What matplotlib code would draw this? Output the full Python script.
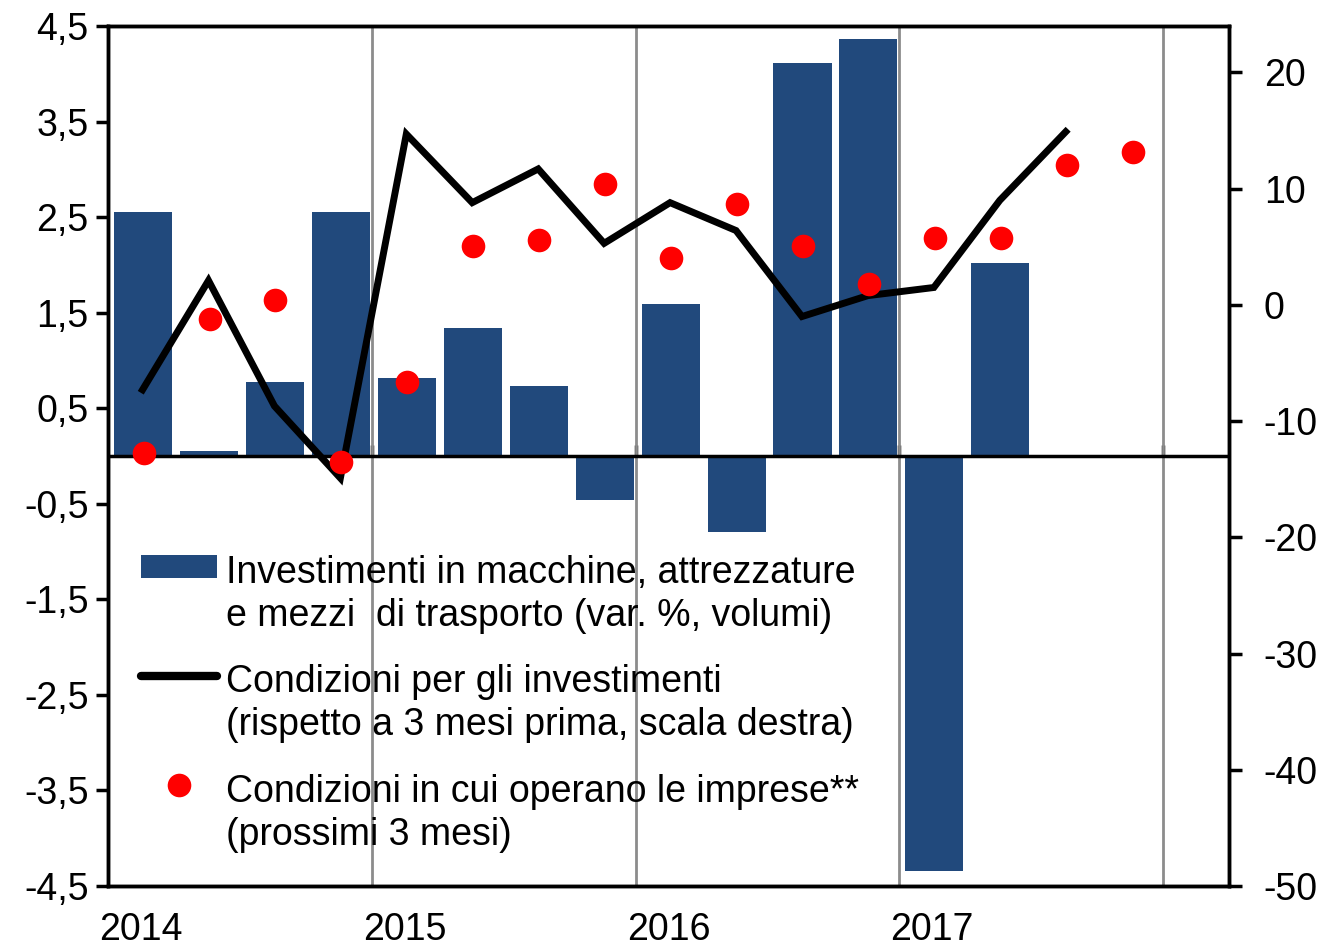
import matplotlib
matplotlib.use("Agg")
import matplotlib.pyplot as plt
from matplotlib.patches import Patch, Rectangle
from matplotlib.lines import Line2D
from matplotlib.legend_handler import HandlerPatch
from matplotlib.transforms import Affine2D
import numpy as np

plt.rcParams['font.family'] = ['Liberation Sans', 'DejaVu Sans']

# ---- data ----
years = [2014, 2015, 2016, 2017]
quarters_bar = ["2014Q1", "2014Q2", "2014Q3", "2014Q4", "2015Q1", "2015Q2", "2015Q3", "2015Q4",
                "2016Q1", "2016Q2", "2016Q3", "2016Q4", "2017Q1", "2017Q2"]
investimenti = [2.55, 0.05, 0.77, 2.55, 0.82, 1.34, 0.73, -0.46,
                1.59, -0.80, 4.11, 4.36, -4.34, 2.02]
condizioni_inv = [-7.3, 2.1, -8.7, -14.9, 14.7, 8.8, 11.7, 5.3,
                  8.8, 6.4, -1.0, 0.8, 1.5, 9.0, 14.9]
condizioni_imp = [-12.7, -1.2, 0.4, -13.5, -6.6, 5.1, 5.6, 10.4,
                  4.0, 8.7, 5.1, 1.8, 5.8, 5.8, 12.0, 13.2]
left_ticks = [4.5, 3.5, 2.5, 1.5, 0.5, -0.5, -1.5, -2.5, -3.5, -4.5]
right_ticks = [-50, -40, -30, -20, -10, 0, 10, 20]

labels = ["Investimenti in macchine, attrezzature\ne mezzi  di trasporto (var. %, volumi)",
          "Condizioni per gli investimenti\n(rispetto a 3 mesi prima, scala destra)",
          "Condizioni in cui operano le imprese**\n(prossimi 3 mesi)"]

BAR_COLOR = "#21497C"

def qpos(n):
    return np.array([2014 + (i + 0.5) / 4 for i in range(n)])

fig = plt.figure(figsize=(13.26, 9.52), dpi=100)
ax = fig.add_axes([108/1326, 1 - 886/952, (1229-108)/1326, (886-26)/952])
ax2 = ax.twinx()

FS = 27

# bars
ax.bar(qpos(len(investimenti)) + 0.008, investimenti, width=0.22, color=BAR_COLOR, zorder=2)
ax.axhline(0, color='black', lw=2.5, zorder=2.5)
ax.set_ylim(-4.5, 4.5)
ax.set_xlim(2014, 2018.25)
ax.set_yticks(left_ticks)
ax.set_yticklabels([("%.1f" % v).replace(".", ",") for v in left_ticks], fontsize=FS)
ax.tick_params(axis='y', direction='out', length=9, width=2.5, pad=5)

# x ticks: labels at Q1 centers, gridlines at year boundaries
ax.set_xticks([y + 0.125 for y in years])
ax.set_xticklabels([str(y) for y in years], fontsize=FS)
ax.set_xticks([2015, 2016, 2017, 2018], minor=True)
ax.tick_params(axis='x', which='both', length=0, pad=19)
ax.grid(False)
ax.xaxis.grid(True, which='minor', color='#8c8c8c', linewidth=2)
ax.set_axisbelow(True)

# zero axis ticks
sec = ax.secondary_xaxis(0.5)
sec.set_xticks([2015, 2016, 2017, 2018])
sec.set_xticklabels([])
sec.tick_params(direction='out', length=8, width=2.5)
sec.spines['bottom'].set_visible(False)

for s in ax.spines.values():
    s.set_linewidth(2.5)
for s in ax2.spines.values():
    s.set_linewidth(2.5)

# right axis
ax2.plot(qpos(len(condizioni_inv)) + 0.006, condizioni_inv, color='black', lw=5,
         solid_joinstyle='miter', zorder=3)
ax2.plot(qpos(len(condizioni_imp)) + 0.01, condizioni_imp, 'o', color='#ff0000',
         markersize=17, markeredgewidth=0, zorder=4)
ax2.set_ylim(-50, 24)
ax2.set_yticks(right_ticks)
ax2.set_yticklabels([str(v) for v in right_ticks], fontsize=FS)
ax2.tick_params(axis='y', direction='out', length=9, width=2.5, pad=16)


def raised_rect(legend, orig_handle, xdescent, ydescent, width, height, fontsize):
    # shift the patch up so it lines up with the first text line (points)
    return Rectangle((-xdescent, -ydescent + 20.5), width, height)


handles = [Patch(facecolor=BAR_COLOR, edgecolor='none'),
           Line2D([0], [0], color='black', lw=6, solid_capstyle='round'),
           Line2D([0], [0], marker='o', color='#ff0000', lw=0, markersize=17,
                  markeredgewidth=0)]
leg = ax2.legend(handles, labels, loc='upper left', bbox_to_anchor=(0.029, 0.385),
                 frameon=False, fontsize=FS, handlelength=2.05, handleheight=0.56,
                 handletextpad=0.22, labelspacing=0.82, borderpad=0, borderaxespad=0,
                 handler_map={Patch: HandlerPatch(patch_func=raised_rect)})
for t in leg.get_texts():
    t.set_linespacing(1.24)
# align line/marker handles with the first line of each label
for h, dy in zip(leg.legend_handles[1:], [29, 30]):
    h.set_transform(h.get_transform() + Affine2D().translate(0, dy))
leg.set_zorder(10)

fig.savefig("out.png", dpi=100)
